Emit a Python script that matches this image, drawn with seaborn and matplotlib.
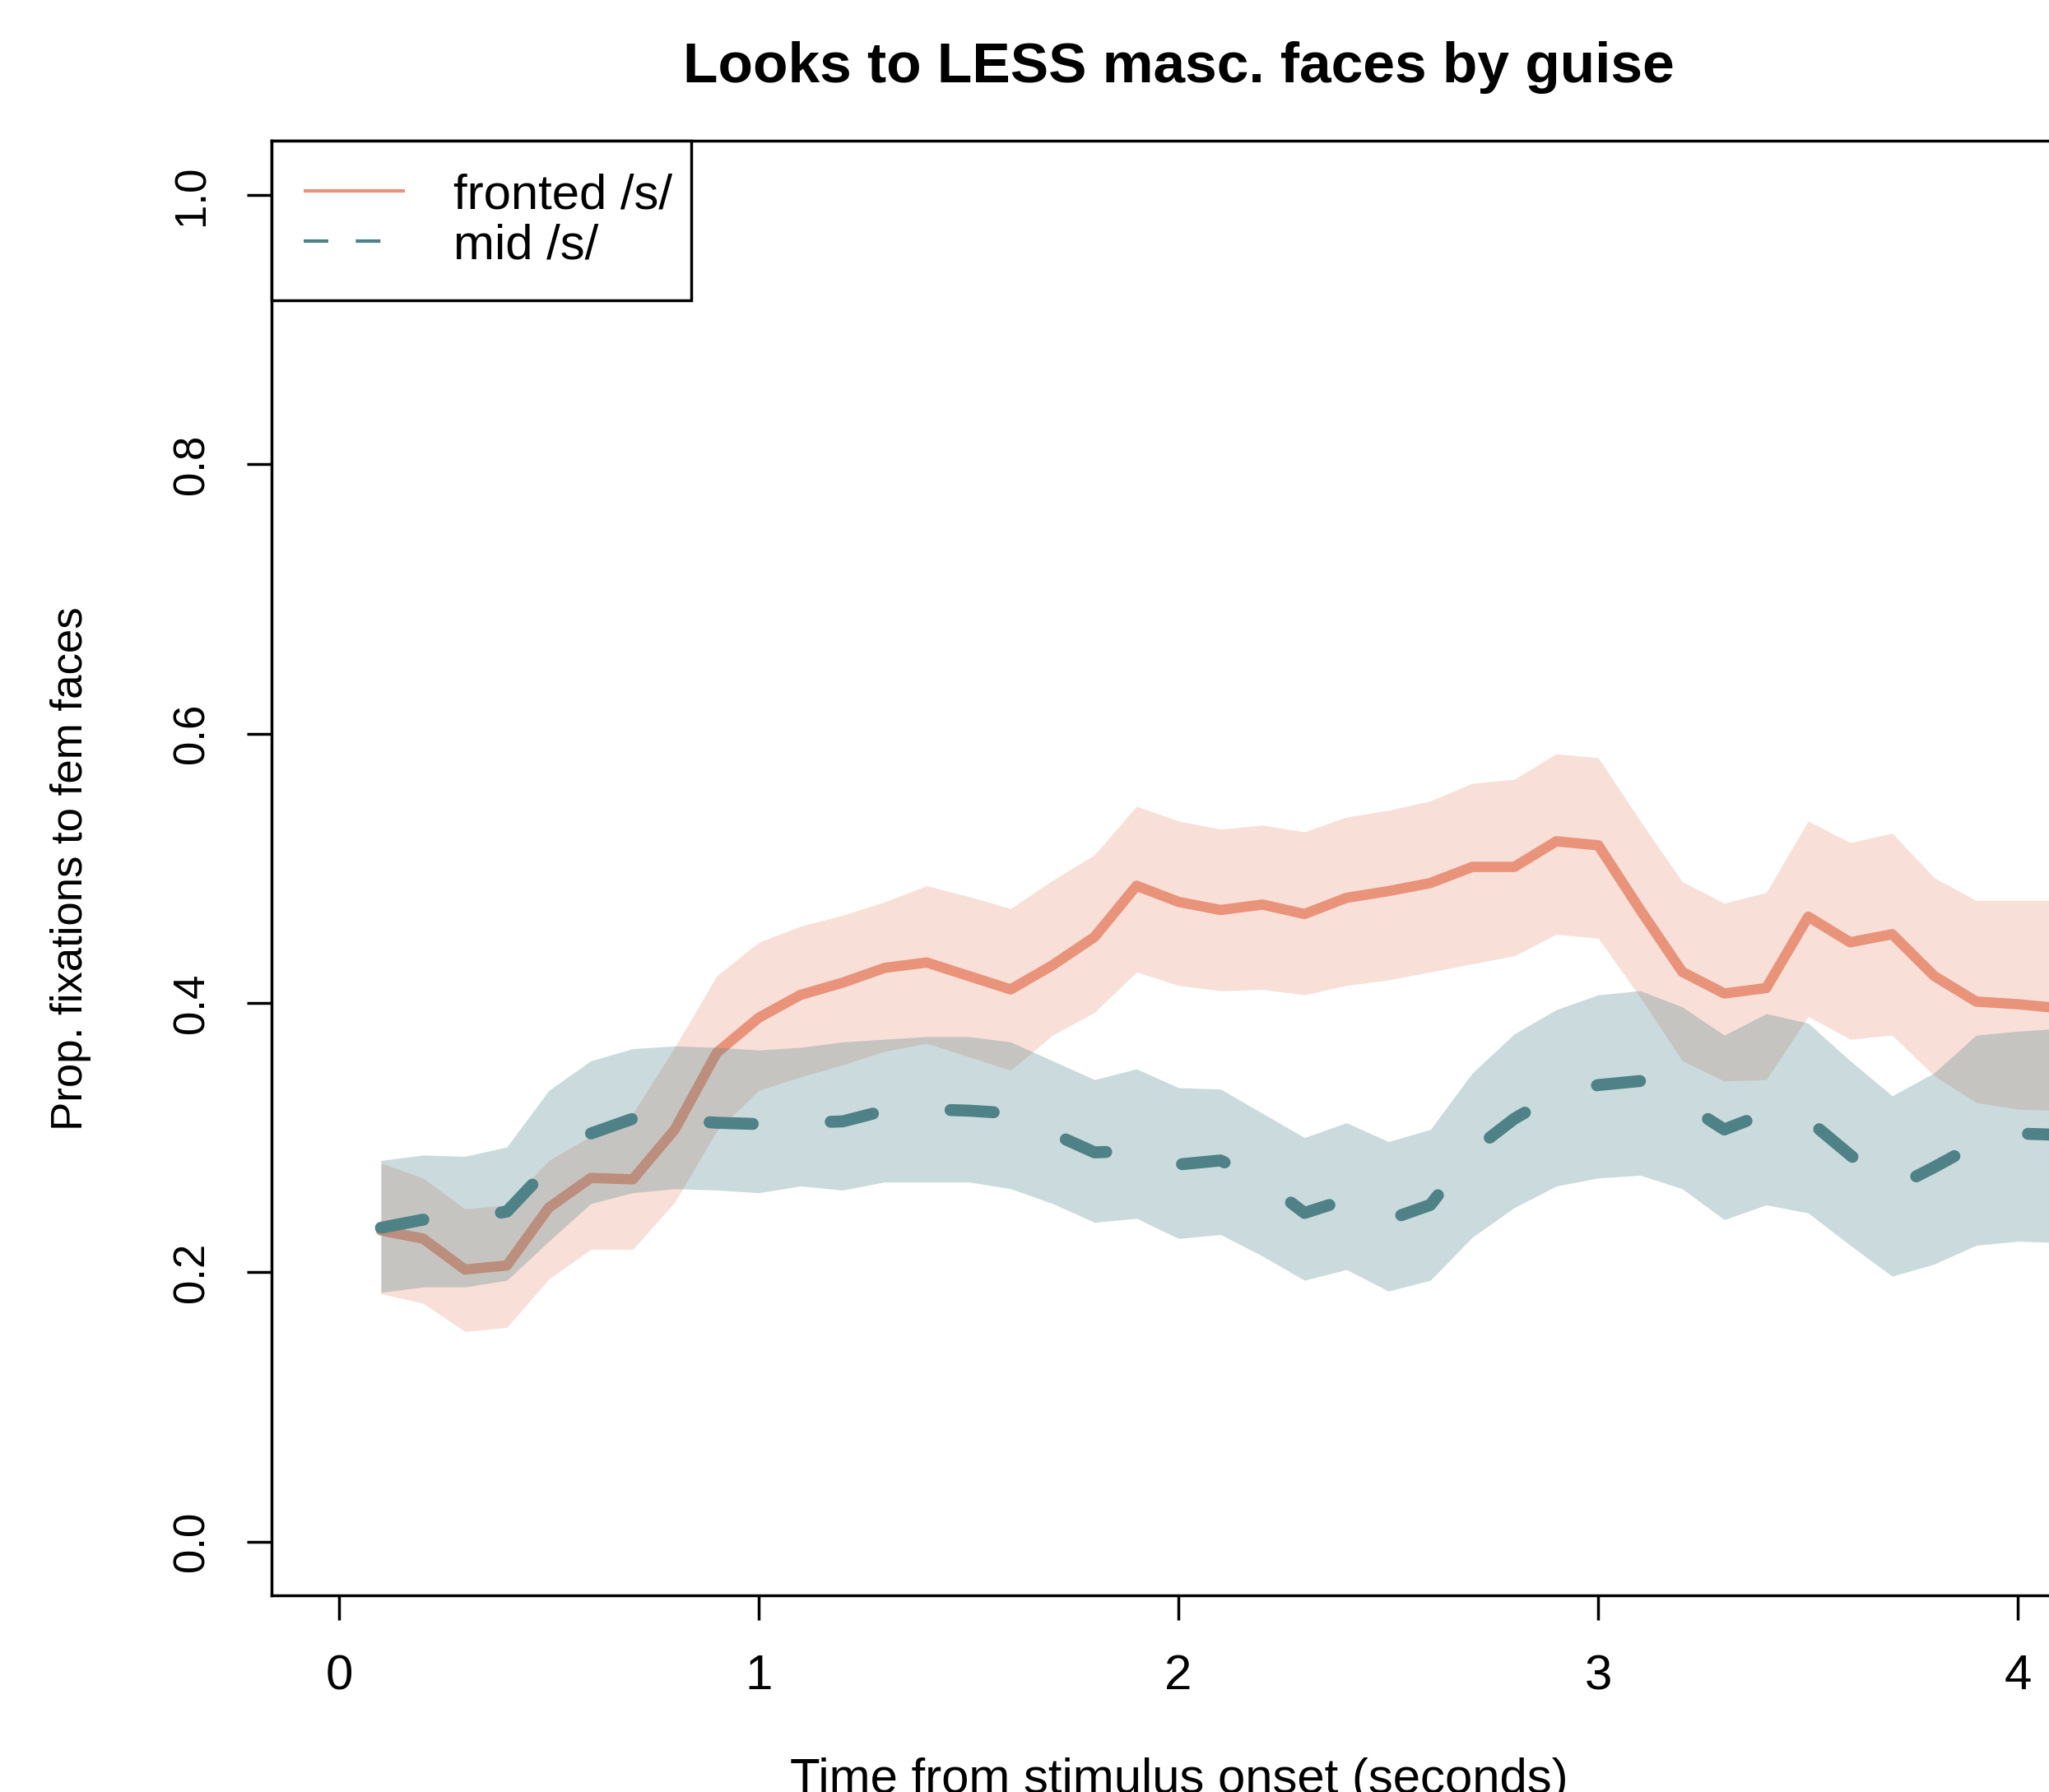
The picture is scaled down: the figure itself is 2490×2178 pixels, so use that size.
import seaborn as sns
import matplotlib.pyplot as plt
from matplotlib.lines import Line2D

# time bins (seconds from stimulus onset)
time_s = [0.1, 0.2, 0.3, 0.4, 0.5, 0.6, 0.7, 0.8, 0.9, 1.0,
          1.1, 1.2, 1.3, 1.4, 1.5, 1.6, 1.7, 1.8, 1.9, 2.0,
          2.1, 2.2, 2.3, 2.4, 2.5, 2.6, 2.7, 2.8, 2.9, 3.0,
          3.1, 3.2, 3.3, 3.4, 3.5, 3.6, 3.7, 3.8, 3.9, 4.0, 4.1]

# fronted /s/ guise: mean and band
fronted_mean = [0.231, 0.225, 0.202, 0.205, 0.248, 0.270, 0.269, 0.306, 0.363, 0.389,
                0.406, 0.415, 0.426, 0.430, 0.420, 0.410, 0.428, 0.449, 0.487, 0.475,
                0.469, 0.473, 0.466, 0.478, 0.483, 0.489, 0.501, 0.501, 0.520, 0.517,
                0.469, 0.423, 0.407, 0.411, 0.464, 0.445, 0.451, 0.420, 0.401, 0.399, 0.396]
fronted_hi = [0.281, 0.270, 0.247, 0.250, 0.283, 0.301, 0.318, 0.367, 0.420, 0.445,
              0.457, 0.465, 0.475, 0.487, 0.479, 0.470, 0.491, 0.510, 0.546, 0.535,
              0.529, 0.532, 0.527, 0.538, 0.543, 0.550, 0.563, 0.566, 0.585, 0.582,
              0.535, 0.490, 0.474, 0.482, 0.535, 0.519, 0.526, 0.493, 0.476, 0.476, 0.476]
fronted_lo = [0.184, 0.177, 0.156, 0.159, 0.195, 0.217, 0.217, 0.252, 0.305, 0.335,
              0.345, 0.354, 0.364, 0.370, 0.360, 0.350, 0.376, 0.393, 0.423, 0.413,
              0.409, 0.410, 0.406, 0.413, 0.417, 0.423, 0.429, 0.435, 0.451, 0.448,
              0.404, 0.357, 0.342, 0.343, 0.390, 0.373, 0.376, 0.346, 0.326, 0.321, 0.320]

# mid /s/ guise: mean and band
mid_mean = [0.233, 0.239, 0.240, 0.245, 0.278, 0.303, 0.314, 0.313, 0.311, 0.310,
            0.311, 0.312, 0.320, 0.321, 0.320, 0.318, 0.303, 0.289, 0.290, 0.280,
            0.283, 0.268, 0.244, 0.254, 0.239, 0.250, 0.290, 0.314, 0.332, 0.339,
            0.342, 0.326, 0.306, 0.318, 0.313, 0.287, 0.262, 0.278, 0.295, 0.303, 0.302]
mid_hi = [0.283, 0.287, 0.286, 0.293, 0.335, 0.357, 0.366, 0.368, 0.367, 0.365,
          0.367, 0.371, 0.373, 0.375, 0.375, 0.371, 0.357, 0.343, 0.351, 0.337,
          0.336, 0.318, 0.300, 0.311, 0.297, 0.306, 0.348, 0.377, 0.395, 0.406,
          0.409, 0.397, 0.376, 0.392, 0.385, 0.357, 0.331, 0.348, 0.376, 0.379, 0.381]
mid_lo = [0.185, 0.189, 0.189, 0.194, 0.223, 0.251, 0.259, 0.262, 0.261, 0.259,
          0.264, 0.261, 0.267, 0.267, 0.267, 0.262, 0.251, 0.237, 0.240, 0.225,
          0.228, 0.212, 0.194, 0.202, 0.186, 0.194, 0.226, 0.248, 0.264, 0.270,
          0.272, 0.262, 0.239, 0.250, 0.244, 0.220, 0.197, 0.206, 0.220, 0.223, 0.222]

x_ticks = [0, 1, 2, 3, 4]
x_tick_labels = ["0", "1", "2", "3", "4"]
y_ticks = [0.0, 0.2, 0.4, 0.6, 0.8, 1.0]
y_tick_labels = ["0.0", "0.2", "0.4", "0.6", "0.8", "1.0"]
legend_labels = ["fronted /s/", "mid /s/"]

red = "#E8937A"
teal = "#4E8287"

sns.set_theme(style="ticks")
plt.rcParams['font.family'] = ['Liberation Sans', 'DejaVu Sans']
plt.rcParams['text.color'] = 'black'
plt.rcParams['axes.labelcolor'] = 'black'

fig = plt.figure(figsize=(24.9, 21.78), dpi=100)
# axes box runs past the right edge (the original plot is cropped)
ax = fig.add_axes([0.1325, 0.1097, 0.8852, 0.8116])

# bands + lines (mid band drawn over the fronted line)
ax.fill_between(time_s, fronted_lo, fronted_hi, color=red, alpha=0.29, lw=0, zorder=1)
sns.lineplot(x=time_s, y=fronted_mean, ax=ax, color=red, lw=9, zorder=2,
             solid_joinstyle='round', solid_capstyle='round', legend=False)
ax.fill_between(time_s, mid_lo, mid_hi, color=teal, alpha=0.29, lw=0, zorder=3)
sns.lineplot(x=time_s, y=mid_mean, ax=ax, color=teal, lw=10.5, zorder=4,
             linestyle=(0, (3.6, 6.5)), dash_capstyle='round', dash_joinstyle='round',
             legend=False)

ax.set_xlim(-0.1607, 4.16)
ax.set_ylim(-0.04, 1.04)
ax.set_xticks(x_ticks)
ax.set_xticklabels(x_tick_labels)
ax.set_yticks(y_ticks)
ax.set_yticklabels(y_tick_labels)
ax.tick_params(direction='out', length=21.6, width=2.5, pad=29.5, colors='black')
ax.tick_params(axis='x', labelsize=43.2)
ax.tick_params(axis='y', labelsize=38)
for lab in ax.get_yticklabels():
    lab.set_rotation(90)
    lab.set_va('center')

for s in ax.spines.values():
    s.set_color('black')
    s.set_linewidth(2.5)

ax.set_title("Looks to LESS masc. faces by guise", fontsize=50,
             fontweight='bold', pad=51.5)
ax.set_xlabel("Time from stimulus onset (seconds)", fontsize=43.2)
ax.xaxis.set_label_coords(0.5005, -0.1115)
ax.set_ylabel("Prop. fixations to fem faces", fontsize=38)
ax.yaxis.set_label_coords(-0.0994, 0.5)

handles = [Line2D([], [], color=red, lw=3, solid_capstyle='butt'),
           Line2D([], [], color=teal, lw=3, linestyle=(0, (7.2, 8.0)),
                  dash_capstyle='butt')]
leg = ax.legend(handles, legend_labels, loc='upper left',
                bbox_to_anchor=(0, 0, 0.2314, 1.0), mode='expand',
                borderaxespad=0, fontsize=43.2, handlelength=2.05,
                handletextpad=0.98, borderpad=0.65, labelspacing=0.1,
                fancybox=False, framealpha=1, edgecolor='black')
leg.get_frame().set_linewidth(2.5)

fig.savefig('out.png', dpi=100)
